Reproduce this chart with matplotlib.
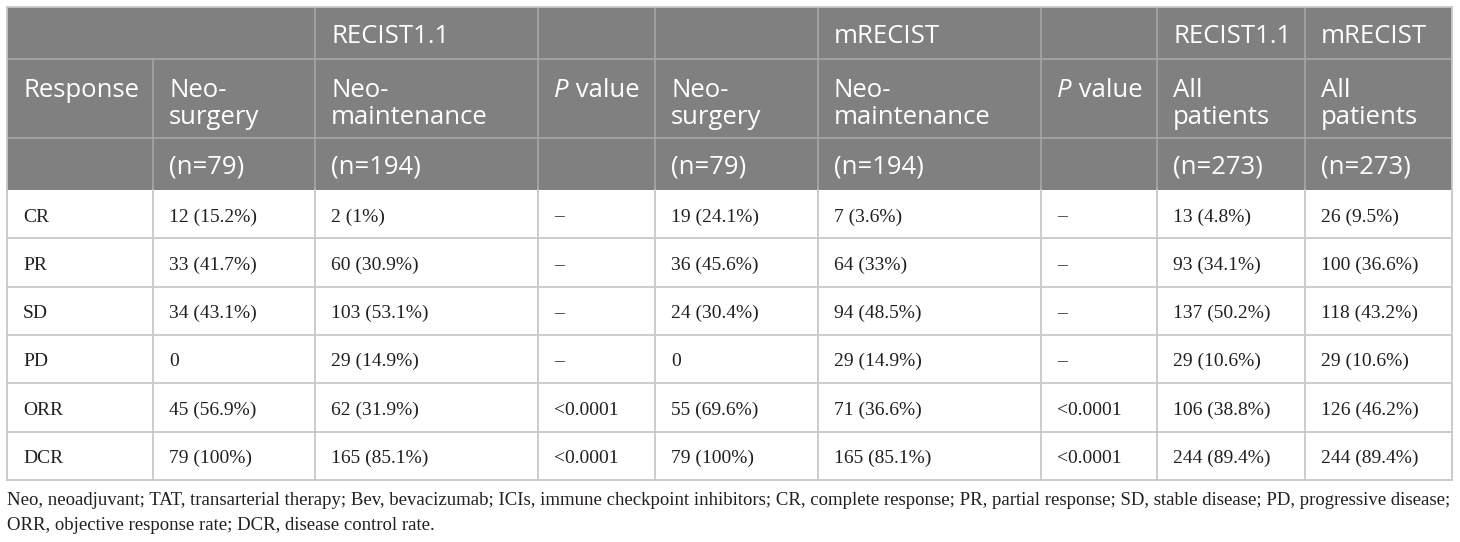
import matplotlib
matplotlib.use('Agg')
import matplotlib.pyplot as plt
from matplotlib.patches import Rectangle

# Table content
responses = ['CR', 'PR', 'SD', 'PD', 'ORR', 'DCR']
recist_surgery = ['12 (15.2%)', '33 (41.7%)', '34 (43.1%)', '0', '45 (56.9%)', '79 (100%)']
recist_maintenance = ['2 (1%)', '60 (30.9%)', '103 (53.1%)', '29 (14.9%)', '62 (31.9%)', '165 (85.1%)']
recist_p = ['\u2013', '\u2013', '\u2013', '\u2013', '<0.0001', '<0.0001']
mrecist_surgery = ['19 (24.1%)', '36 (45.6%)', '24 (30.4%)', '0', '55 (69.6%)', '79 (100%)']
mrecist_maintenance = ['7 (3.6%)', '64 (33%)', '94 (48.5%)', '29 (14.9%)', '71 (36.6%)', '165 (85.1%)']
mrecist_p = ['\u2013', '\u2013', '\u2013', '\u2013', '<0.0001', '<0.0001']
all_recist = ['13 (4.8%)', '93 (34.1%)', '137 (50.2%)', '29 (10.6%)', '106 (38.8%)', '244 (89.4%)']
all_mrecist = ['26 (9.5%)', '100 (36.6%)', '118 (43.2%)', '29 (10.6%)', '126 (46.2%)', '244 (89.4%)']

# header rows: row 1 is (column, label)
header_top = [(2, 'RECIST1.1'), (5, 'mRECIST'), (7, 'RECIST1.1'), (8, 'mRECIST')]
header_mid = ['Response', 'Neo-\nsurgery', 'Neo-\nmaintenance', 'P value',
              'Neo-\nsurgery', 'Neo-\nmaintenance', 'P value',
              'All\npatients', 'All\npatients']
header_n = ['', '(n=79)', '(n=194)', '', '(n=79)', '(n=194)', '', '(n=273)', '(n=273)']

footnote = ['Neo, neoadjuvant; TAT, transarterial therapy; Bev, bevacizumab; ICIs, immune checkpoint '
            'inhibitors; CR, complete response; PR, partial response; SD, stable disease; PD, progressive disease;',
            'ORR, objective response rate; DCR, disease control rate.']

# Layout (pixels)
W, H = 1460, 542
col_edges = [7, 153, 315, 538, 655, 818, 1041, 1157, 1305, 1452]
head_edges = [7, 59, 138, 190]
row_h = 48.3
pad = 16

HEAD_BG = '#808080'
HEAD_LINE = '#a6a6a6'
BODY_LINE = '#c8c8c8'
BODY_TEXT = '#231f20'
SANS = 'Open Sans'
SERIF = 'Liberation Serif'
HFS = 18.5
BFS = 14
FFS = 13.5

fig = plt.figure(figsize=(W / 100, H / 100), dpi=100)
ax = fig.add_axes([0, 0, 1, 1])
ax.set_xlim(0, W)
ax.set_ylim(H, 0)
ax.axis('off')
renderer = fig.canvas.get_renderer()

x0, x1 = col_edges[0], col_edges[-1]
y_head_end = head_edges[-1]
n_rows = len(responses)
y_body_end = y_head_end + n_rows * row_h

# header background
ax.add_patch(Rectangle((x0, head_edges[0]), x1 - x0, y_head_end - head_edges[0],
                       facecolor=HEAD_BG, edgecolor='none', zorder=1))

# header horizontal lines
for y in head_edges[1:-1]:
    ax.plot([x0, x1], [y, y], color=HEAD_LINE, lw=1.2, zorder=2)

# header vertical lines (first row has no line between col 0 and 1)
for i, x in enumerate(col_edges[1:-1], start=1):
    ytop = head_edges[1] if i == 1 else head_edges[0]
    ax.plot([x, x], [ytop, y_head_end], color=HEAD_LINE, lw=1.2, zorder=2)


def draw_text(x, y, s, size, family, color, style='normal'):
    return ax.text(x, y, s, fontsize=size, family=family, color=color,
                   style=style, ha='left', va='baseline', zorder=3)


def draw_p_value(x, y, size, family, color):
    t = draw_text(x, y, 'P', size, family, color, style='italic')
    w = t.get_window_extent(renderer).width
    draw_text(x + w, y, ' value', size, family, color)


# header row 1
for c, label in header_top:
    draw_text(col_edges[c] + pad, 43, label, HFS, SANS, 'white')

# header row 2 (two-line labels)
line_gap = 27
for i, label in enumerate(header_mid):
    for j, part in enumerate(label.split('\n')):
        y = 97 + j * line_gap
        if part == 'P value':
            draw_p_value(col_edges[i] + pad, y, HFS, SANS, 'white')
        else:
            draw_text(col_edges[i] + pad, y, part, HFS, SANS, 'white')

# header row 3
for i, label in enumerate(header_n):
    if label:
        draw_text(col_edges[i] + pad, 173, label, HFS, SANS, 'white')

# body
columns = [responses, recist_surgery, recist_maintenance, recist_p,
           mrecist_surgery, mrecist_maintenance, mrecist_p, all_recist, all_mrecist]
for r in range(n_rows):
    top = y_head_end + r * row_h
    for c, col in enumerate(columns):
        draw_text(col_edges[c] + pad, top + 31.5, col[r], BFS, SERIF, BODY_TEXT)

# body grid
for r in range(1, n_rows + 1):
    y = y_head_end + r * row_h
    ax.plot([x0, x1], [y, y], color=BODY_LINE, lw=1.3, zorder=2)
for x in col_edges:
    ax.plot([x, x], [y_head_end, y_body_end], color=BODY_LINE, lw=1.3, zorder=2)
# outer top border
ax.plot([x0, x1], [head_edges[0], head_edges[0]], color=BODY_LINE, lw=1.3, zorder=2)
for x in (x0, x1):
    ax.plot([x, x], [head_edges[0], y_head_end], color=BODY_LINE, lw=1.3, zorder=2)

# footnote
for k, line in enumerate(footnote):
    draw_text(x0, 505 + k * 25, line, FFS, SERIF, BODY_TEXT)

fig.savefig('out.png', dpi=100)
